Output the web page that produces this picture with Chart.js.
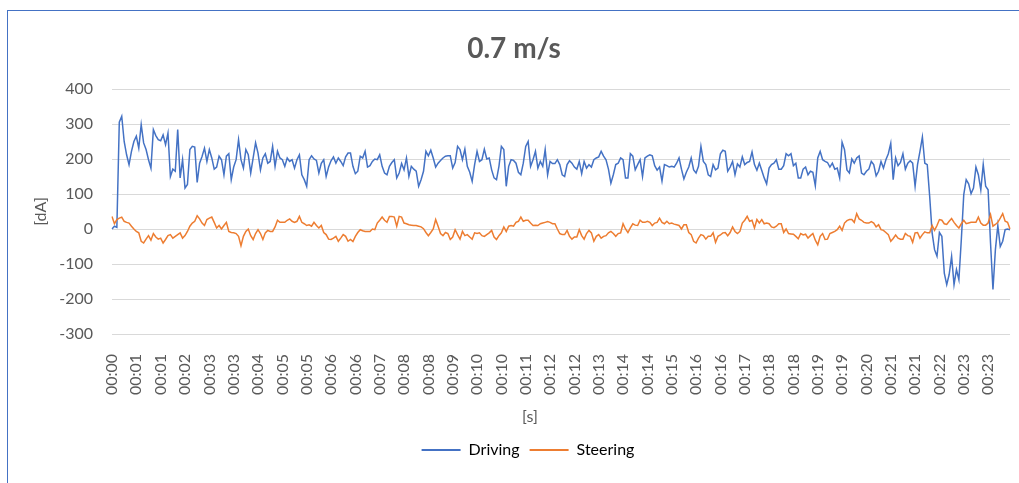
<!DOCTYPE html>
<html>
<head>
<meta charset="utf-8">
<title>0.7 m/s</title>
<script src="https://cdn.jsdelivr.net/npm/chart.js@4.4.1/dist/chart.umd.min.js"></script>
<style>
    html, body { margin: 0; padding: 0; background: #fff; overflow: hidden; }
    #wrap { position: relative; width: 1019px; height: 483px; overflow: hidden; }
    #frame { position: absolute; left: 7px; top: 10px; width: 1100px; height: 600px; border: 1px solid #4472C4; }
    #chart { position: absolute; left: 0; top: 0; }
</style>
</head>
<body>
<div id="wrap">
    <div id="frame"></div>
    <canvas id="chart" width="1019" height="483"></canvas>
</div>
<script>
// Category labels shown on the x axis (one every 10 samples)
const tickLabels = [
    '00:00', '00:01', '00:01', '00:02', '00:03', '00:03', '00:04', '00:05', '00:05', '00:06',
    '00:06', '00:07', '00:08', '00:08', '00:09', '00:10', '00:10', '00:11', '00:12', '00:12',
    '00:13', '00:14', '00:14', '00:15', '00:16', '00:16', '00:17', '00:18', '00:18', '00:19',
    '00:19', '00:20', '00:21', '00:21', '00:22', '00:23', '00:23'
];

// Driving motor current [dA]
const driving = [
    0, 8, 5, 305, 322, 250, 212, 184, 222, 250,
    265, 231, 298, 246, 227, 198, 174, 284, 267, 255,
    252, 269, 241, 274, 150, 171, 165, 284, 146, 198,
    117, 127, 227, 236, 234, 133, 188, 207, 231, 193,
    227, 203, 171, 177, 208, 198, 155, 208, 215, 141,
    177, 198, 255, 198, 174, 227, 212, 160, 203, 246,
    217, 169, 203, 215, 188, 193, 236, 179, 222, 203,
    198, 179, 203, 193, 198, 174, 198, 212, 155, 141,
    122, 198, 209, 200, 196, 160, 188, 198, 150, 177,
    195, 206, 188, 203, 193, 181, 206, 217, 217, 179,
    158, 165, 208, 203, 222, 177, 181, 193, 200, 198,
    212, 179, 160, 155, 179, 190, 198, 146, 160, 187,
    169, 203, 150, 179, 171, 165, 122, 141, 165, 222,
    209, 225, 203, 177, 188, 196, 203, 208, 209, 209,
    174, 190, 236, 227, 198, 228, 179, 162, 136, 184,
    222, 193, 198, 228, 200, 203, 169, 146, 141, 179,
    236, 227, 122, 179, 198, 196, 188, 162, 155, 188,
    236, 250, 179, 198, 222, 174, 193, 179, 227, 155,
    193, 187, 187, 198, 184, 155, 150, 184, 195, 188,
    177, 171, 193, 158, 193, 174, 184, 177, 198, 203,
    206, 222, 208, 198, 171, 131, 155, 184, 188, 203,
    198, 146, 146, 215, 208, 169, 184, 198, 150, 203,
    208, 212, 209, 181, 168, 177, 137, 184, 181, 177,
    179, 177, 188, 203, 171, 143, 162, 177, 203, 169,
    160, 179, 236, 193, 184, 155, 150, 184, 169, 174,
    215, 225, 222, 165, 177, 193, 155, 186, 177, 206,
    184, 190, 193, 220, 184, 168, 188, 167, 146, 129,
    174, 184, 188, 198, 171, 171, 181, 215, 209, 215,
    181, 188, 146, 146, 171, 177, 155, 165, 162, 124,
    203, 222, 198, 193, 190, 177, 188, 171, 174, 146,
    248, 227, 169, 160, 200, 188, 203, 209, 160, 155,
    165, 171, 193, 184, 152, 165, 193, 174, 198, 215,
    245, 141, 203, 181, 190, 215, 171, 188, 195, 188,
    122, 184, 222, 263, 188, 184, 93, -11, -59, -78,
    -10, -21, -126, -159, -130, -78, -159, -116, -145, -30,
    98, 141, 129, 101, 117, 177, 155, 112, 184, 122,
    112, -40, -173, -59, 10, -50, -35, -2, 0, -2
];

// Steering motor current [dA]
const steering = [
    36, 15, 27, 31, 34, 22, 19, 17, 8, 0,
    -7, -11, -35, -40, -29, -19, -32, -13, -23, -29,
    -26, -40, -30, -19, -16, -26, -21, -16, -11, -26,
    -19, -7, 8, 17, 22, 38, 29, 17, 10, 27,
    31, 34, 19, 3, 10, 0, 10, 19, -7, -10,
    -11, -13, -21, -48, -21, -7, 0, -19, -30, -13,
    -2, -13, -30, -11, -4, -7, -7, 6, 25, 19,
    19, 19, 25, 29, 22, 19, 22, 36, 19, 15,
    10, 12, 8, 19, 10, 3, 10, -10, -16, -29,
    -30, -26, -21, -35, -26, -16, -21, -35, -30, -36,
    -21, -10, -2, -5, -7, -7, -7, 0, -2, 17,
    25, 34, 25, 19, 36, 36, 34, 8, 36, 34,
    17, 15, 12, 11, 10, 10, 8, 6, 1, -10,
    -19, -10, 0, 27, 8, -13, -19, -10, -13, -30,
    -23, -2, -16, -29, -7, -19, -16, -23, -29, -11,
    -13, -11, -19, -21, -16, -11, -4, -23, -30, -19,
    -11, 6, -7, 8, 10, 8, 19, 22, 34, 22,
    25, 25, 17, 10, 11, 10, 15, 17, 19, 21,
    19, 15, 15, 0, -13, -16, -16, -4, -21, -29,
    -23, -23, -2, -19, -29, -13, -4, -11, -35, -21,
    -16, -26, -21, -19, -11, -7, -13, -21, -13, -11,
    15, 0, -10, 3, 15, 11, 10, 25, 19, 19,
    22, 19, 10, 17, 19, 31, 19, 15, 22, 15,
    17, 14, 12, 10, 0, 12, 12, -10, -16, -35,
    -40, -26, -16, -19, -29, -21, -21, -11, -38, -21,
    -17, -11, -10, -19, -10, 6, -7, -13, -7, 17,
    25, 36, 22, 25, 3, 27, 17, 27, 15, 17,
    15, 6, 4, 8, 15, 15, -10, 0, -13, -14,
    -15, -21, -28, -13, -17, -15, -26, -19, -13, -32,
    -45, -21, -13, -30, -29, -13, -10, -7, -2, 8,
    -4, 17, 24, 27, 27, 19, 44, 29, 25, 19,
    17, 17, 21, 17, 6, 12, -2, -4, -10, -16,
    -35, -27, -17, -26, -29, -29, -13, -19, -21, -38,
    -11, -10, -26, -16, -8, -11, -11, 10, -4, 10,
    27, 25, 15, 13, 22, 30, 19, 10, 3, 15,
    25, 15, 17, 19, 19, 19, 34, 17, 11, 11,
    17, 41, 8, 13, 19, 31, 44, 22, 19, 0
];

const seriesNames = ['Driving', 'Steering'];
const seriesColors = ['#4472C4', '#ED7D31'];
const textColor = '#595959';

// One label per sample, only every 10th one is printed
const labels = driving.map((v, i) => (i % 10 === 0 ? tickLabels[i / 10] : ''));

// Move a full-width layout box so it is centred on centerX
function shiftBox(box, centerX) {
    if (!box) return;
    const dx = centerX - (box.left + box.right) / 2;
    box.left += dx;
    box.right += dx;
}

// Excel places title, legend and x axis title off the plot centre
const excelLayout = {
    id: 'excelLayout',
    afterLayout(chart) {
        shiftBox(chart.titleBlock, 514);
        shiftBox(chart.legend, 528);
    },
    afterDraw(chart) {
        const ctx = chart.ctx;
        ctx.save();
        ctx.font = '16px Lato';
        ctx.fillStyle = textColor;
        ctx.textAlign = 'center';
        ctx.textBaseline = 'middle';
        ctx.fillText('[s]', 530, 417);
        ctx.restore();
    }
};

Chart.defaults.font.family = 'Lato';
Chart.defaults.font.size = 16;
Chart.defaults.color = textColor;

new Chart(document.getElementById('chart'), {
    type: 'line',
    data: {
        labels: labels,
        datasets: [
            {
                label: seriesNames[0],
                data: driving,
                borderColor: seriesColors[0],
                backgroundColor: seriesColors[0],
                borderWidth: 1.5,
                pointRadius: 0,
                tension: 0,
                order: 2
            },
            {
                label: seriesNames[1],
                data: steering,
                borderColor: seriesColors[1],
                backgroundColor: seriesColors[1],
                borderWidth: 1.5,
                pointRadius: 0,
                tension: 0,
                order: 1
            }
        ]
    },
    options: {
        responsive: false,
        animation: false,
        layout: {
            padding: { left: 0, right: 9, top: 0, bottom: 15 }
        },
        plugins: {
            title: {
                display: true,
                text: '0.7 m/s',
                color: textColor,
                font: { size: 28, weight: 'bold' },
                padding: { top: 32, bottom: 23.4 }
            },
            legend: {
                position: 'bottom',
                labels: {
                    boxWidth: 39,
                    boxHeight: 2,
                    padding: 10,
                    color: textColor,
                    generateLabels: () => seriesNames.map((name, i) => ({
                        text: name,
                        fillStyle: seriesColors[i],
                        strokeStyle: seriesColors[i],
                        lineWidth: 0,
                        hidden: false,
                        datasetIndex: i
                    }))
                }
            },
            tooltip: { enabled: false }
        },
        scales: {
            x: {
                type: 'category',
                grid: { display: false },
                border: { display: false },
                ticks: {
                    autoSkip: false,
                    minRotation: 90,
                    maxRotation: 90,
                    padding: 12,
                    color: textColor
                },
                afterFit: (scale) => {
                    scale.height = 98;
                    scale.paddingLeft = 0;
                    scale.paddingRight = 0;
                }
            },
            y: {
                min: -300,
                max: 400,
                grid: { color: '#D9D9D9', lineWidth: 1, drawTicks: false },
                border: { display: false },
                ticks: { stepSize: 100, padding: 19, color: textColor },
                title: {
                    display: true,
                    text: '[dA]',
                    color: textColor,
                    padding: { top: 31, bottom: 0 }
                },
                afterFit: (scale) => {
                    scale.width = 112;
                    scale.paddingTop = 0;
                    scale.paddingBottom = 0;
                }
            }
        }
    },
    plugins: [excelLayout]
});
</script>
</body>
</html>
